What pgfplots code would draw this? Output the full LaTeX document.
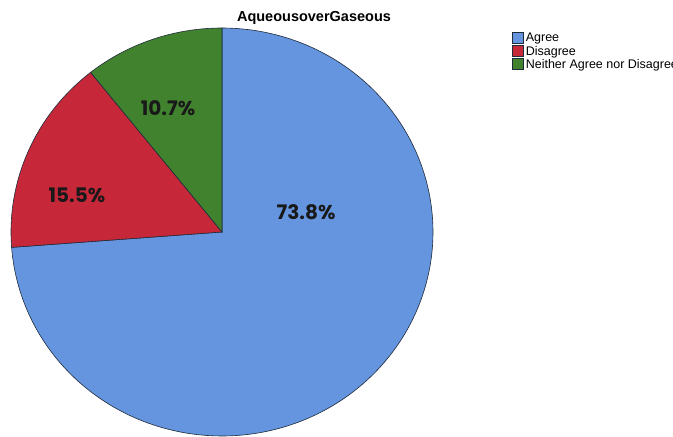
\documentclass[border=0pt]{standalone}
\usepackage{pgfplots}
\pgfplotsset{compat=1.18}
\usepackage{fontspec}
\setmainfont{Liberation Sans}
\newfontfamily\labfont{Poppins}[UprightFont=* Bold]
\definecolor{agree}{HTML}{6595DF}
\definecolor{disagree}{HTML}{C6283A}
\definecolor{neither}{HTML}{41822F}
\definecolor{edge}{HTML}{1F2A3A}
\begin{document}
\begin{tikzpicture}
\pgfmathsetmacro{\vA}{73.8}
\pgfmathsetmacro{\vB}{15.5}
\pgfmathsetmacro{\vC}{10.7}
\pgfmathsetmacro{\aA}{90-3.6*\vA}
\pgfmathsetmacro{\aB}{\aA-3.6*\vB}
\pgfmathsetmacro{\aC}{\aB-3.6*\vC}
\begin{axis}[
  scale only axis, width=673pt, height=437pt,
  xmin=0, xmax=673, ymin=-437, ymax=0,
  hide axis, clip=false,
  legend style={at={(axis cs:512,-31)}, anchor=north west, draw=none, fill=none,
    inner sep=0pt, font=\fontsize{12.5}{13}\selectfont, row sep=-1.2pt,
    /tikz/every even column/.append style={column sep=0pt}},
  legend cell align=left,
  legend image code/.code={\draw[#1] (0pt,-5pt) rectangle (11pt,6pt);},
]
\addplot[fill=agree, draw=edge, line width=0.6pt, domain=90:\aA, samples=200]
  ({222+211*cos(x)},{-232+204*sin(x)}) -- (axis cs:222,-232) -- cycle;
\addlegendentry{Agree}
\addplot[fill=disagree, draw=edge, line width=0.6pt, domain=\aA:\aB, samples=80]
  ({222+211*cos(x)},{-232+204*sin(x)}) -- (axis cs:222,-232) -- cycle;
\addlegendentry{Disagree}
\addplot[fill=neither, draw=edge, line width=0.6pt, domain=\aB:\aC, samples=60]
  ({222+211*cos(x)},{-232+204*sin(x)}) -- (axis cs:222,-232) -- cycle;
\addlegendentry{Neither Agree nor Disagree}
\node[font=\bfseries\fontsize{14.5}{16}\selectfont] at (axis cs:314,-18) {AqueousoverGaseous};
\node[font=\labfont\fontsize{20}{22}\selectfont, text=black!90] at (axis cs:306,-212) {73.8\%};
\node[font=\labfont\fontsize{20}{22}\selectfont, text=black!90] at (axis cs:77,-195) {15.5\%};
\node[font=\labfont\fontsize{20}{22}\selectfont, text=black!90] at (axis cs:168,-108) {10.7\%};
\end{axis}
\pgfresetboundingbox
\path (0,0) rectangle (673pt,437pt);
\end{tikzpicture}
\end{document}
